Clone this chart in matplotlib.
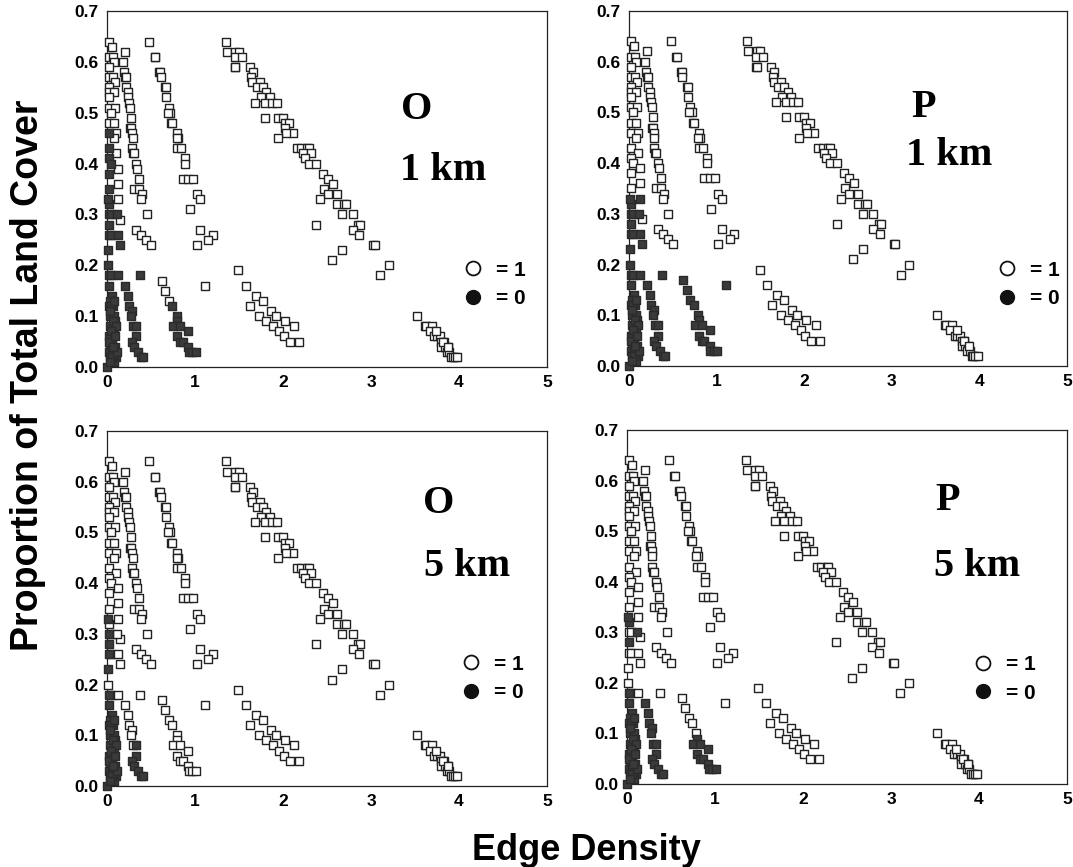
import matplotlib
matplotlib.use('Agg')
import matplotlib.pyplot as plt
from matplotlib.lines import Line2D
from matplotlib.markers import MarkerStyle

plt.rcParams['font.family'] = ['Liberation Sans', 'DejaVu Sans']

# ---- shared point clusters (always open, code 1) ----
line_a_x = [1.35, 1.36, 1.46, 1.50, 1.45, 1.53, 1.45, 1.46, 1.62, 1.66, 1.64, 1.65, 1.74, 1.70, 1.77,
            1.81, 1.85, 1.75, 1.68, 1.79, 1.87, 1.93, 1.79, 1.94, 2.00, 2.02, 2.07, 2.02, 2.11, 2.03,
            1.94, 2.16, 2.21, 2.27, 2.29, 2.23, 2.32, 2.25, 2.30, 2.38, 2.46, 2.51, 2.57, 2.47, 2.51,
            2.61, 2.42, 2.61, 2.69, 2.72, 2.67, 2.79, 2.38, 2.85, 2.88, 2.79, 2.86, 3.02, 3.04, 2.67,
            2.56, 3.20, 3.10]
line_a_y = [0.64, 0.62, 0.62, 0.62, 0.61, 0.61, 0.59, 0.59, 0.59, 0.58, 0.57, 0.56, 0.56, 0.55, 0.55,
            0.54, 0.53, 0.53, 0.52, 0.52, 0.52, 0.52, 0.49, 0.49, 0.49, 0.48, 0.48, 0.47, 0.46, 0.46,
            0.45, 0.43, 0.43, 0.43, 0.43, 0.42, 0.42, 0.41, 0.40, 0.40, 0.38, 0.37, 0.36, 0.35, 0.34,
            0.34, 0.33, 0.32, 0.32, 0.32, 0.30, 0.30, 0.28, 0.28, 0.28, 0.27, 0.26, 0.24, 0.24, 0.23,
            0.21, 0.20, 0.18]

line_b_x = [0.48, 0.54, 0.55, 0.59, 0.60, 0.61, 0.66, 0.67, 0.67, 0.70, 0.72, 0.69, 0.73, 0.74, 0.80,
            0.81, 0.79, 0.80, 0.84, 0.89, 0.89, 0.86, 0.92, 0.98, 1.02, 1.06, 0.94, 1.06, 1.20, 1.15, 1.02]
line_b_y = [0.64, 0.61, 0.61, 0.58, 0.58, 0.57, 0.55, 0.55, 0.53, 0.51, 0.50, 0.50, 0.48, 0.48, 0.46,
            0.45, 0.45, 0.43, 0.43, 0.41, 0.40, 0.37, 0.37, 0.37, 0.34, 0.33, 0.31, 0.27, 0.26, 0.25, 0.24]

line_c_x = [0.20, 0.18, 0.19, 0.21, 0.22, 0.22, 0.24, 0.24, 0.25, 0.26, 0.27, 0.26, 0.27, 0.28, 0.29,
            0.28, 0.30, 0.31, 0.33, 0.34, 0.36, 0.31, 0.36, 0.40, 0.39, 0.45, 0.33, 0.39, 0.44, 0.50]
line_c_y = [0.62, 0.60, 0.58, 0.57, 0.57, 0.55, 0.54, 0.53, 0.52, 0.51, 0.49, 0.47, 0.47, 0.46, 0.45,
            0.43, 0.42, 0.42, 0.40, 0.39, 0.37, 0.35, 0.35, 0.34, 0.33, 0.30, 0.27, 0.26, 0.25, 0.24]

line_d_x = [1.49, 1.58, 1.69, 1.77, 1.63, 1.86, 1.92, 1.73, 1.81, 2.02, 1.89, 2.13, 1.96, 2.01, 2.08, 2.18]
line_d_y = [0.19, 0.16, 0.14, 0.13, 0.12, 0.11, 0.10, 0.10, 0.09, 0.09, 0.08, 0.08, 0.07, 0.06, 0.05, 0.05]

line_e_x = [3.52, 3.61, 3.62, 3.69, 3.67, 3.72, 3.75, 3.78, 3.80, 3.83, 3.80, 3.84, 3.87, 3.86, 3.89,
            3.91, 3.93, 3.95, 3.98, 3.74, 3.82, 3.88]
line_e_y = [0.10, 0.08, 0.08, 0.08, 0.07, 0.06, 0.06, 0.06, 0.05, 0.05, 0.04, 0.04, 0.04, 0.03, 0.03,
            0.02, 0.02, 0.02, 0.02, 0.07, 0.05, 0.04]

# ---- clusters whose code (1 = open, 0 = filled) differs between panels ----
col_hi_x = [0.02, 0.06, 0.02, 0.07, 0.08, 0.02, 0.02, 0.07, 0.09, 0.02, 0.02, 0.08, 0.02, 0.02, 0.09,
            0.05, 0.02, 0.08, 0.02, 0.10, 0.08, 0.02, 0.10, 0.02, 0.05, 0.12, 0.02, 0.12, 0.02, 0.13,
            0.02, 0.15, 0.02]
col_hi_y = [0.64, 0.63, 0.61, 0.61, 0.60, 0.59, 0.57, 0.57, 0.56, 0.55, 0.54, 0.54, 0.53, 0.51, 0.51,
            0.50, 0.48, 0.48, 0.46, 0.46, 0.45, 0.43, 0.42, 0.41, 0.40, 0.39, 0.38, 0.36, 0.35, 0.33,
            0.32, 0.29, 0.28]

col_lo_x = [0.01, 0.02, 0.05, 0.11, 0.02, 0.05, 0.13, 0.15, 0.01, 0.01, 0.02, 0.05, 0.13, 0.02, 0.06,
            0.04, 0.02, 0.07, 0.03, 0.08, 0.09, 0.04, 0.08, 0.02, 0.06, 0.03, 0.09, 0.02, 0.06, 0.10,
            0.04, 0.08, 0.00, 0.05, 0.08, 0.03, 0.07, 0.10, 0.05, 0.02, 0.09, 0.06, 0.04, 0.11, 0.07]
col_lo_y = [0.33, 0.30, 0.30, 0.30, 0.26, 0.26, 0.26, 0.24, 0.23, 0.20, 0.18, 0.18, 0.18, 0.16, 0.14,
            0.13, 0.12, 0.12, 0.10, 0.10, 0.09, 0.08, 0.07, 0.06, 0.05, 0.04, 0.04, 0.03, 0.03, 0.02,
            0.02, 0.01, 0.00, 0.12, 0.13, 0.11, 0.09, 0.08, 0.07, 0.05, 0.06, 0.02, 0.01, 0.03, 0.04]

line_f_x = [0.62, 0.66, 0.70, 0.74, 0.79, 0.80, 0.75, 0.83, 0.92, 0.80, 0.83, 0.86, 0.92, 0.93, 0.97, 1.01]
line_f_y = [0.17, 0.15, 0.13, 0.12, 0.10, 0.09, 0.08, 0.08, 0.07, 0.06, 0.05, 0.05, 0.04, 0.03, 0.03, 0.03]

line_g_x = [0.38, 0.20, 0.24, 0.25, 0.28, 0.27, 0.30, 0.33, 0.33, 0.28, 0.31, 0.35, 0.39, 0.41]
line_g_y = [0.18, 0.16, 0.14, 0.12, 0.11, 0.10, 0.08, 0.08, 0.06, 0.05, 0.04, 0.03, 0.02, 0.02]

stray_x = [1.11]
stray_y = [0.16]

panel_names = ['O', 'P', 'O', 'P']
panel_scales = ['1 km', '1 km', '5 km', '5 km']

codes_col_hi = ['111111111111111111011010010101010',
                '111111111111111111111111111110010',
                '111111111111111111111111111111110',
                '111111111111111111111111111111010']
codes_col_lo = ['000000000000000000000000000000000000000000000',
                '000000000000000000000000000000000000000000000',
                '001101110101100000000000000000000000000000000',
                '011011111101100000000000000000000000000000000']
codes_f = ['1110000000000000', '0000000000000000', '1111111111111111', '1111100000000000']
codes_g = ['00000000000000', '00000000000000', '11111110000000', '10000000000000']
codes_stray = ['1', '0', '1', '1']

# ---- layout (figure fractions) ----
axes_rects = [[0.0997, 0.5767, 0.4101, 0.4106],
              [0.5862, 0.5779, 0.4082, 0.4095],
              [0.0997, 0.0934, 0.4101, 0.4095],
              [0.5843, 0.0957, 0.4101, 0.4083]]
name_pos = [(3.52, 0.507), (3.36, 0.509), (3.77, 0.558), (3.64, 0.56)]
scale_pos = [(3.82, 0.387), (3.66, 0.415), (4.09, 0.432), (3.98, 0.43)]
legend_pos = [(0.882, 0.232), (0.914, 0.23), (0.878, 0.303), (0.860, 0.297)]

square = MarkerStyle('s', joinstyle='round')

fig = plt.figure(figsize=(10.73, 8.67), dpi=100)

for i in range(4):
    ax = fig.add_axes(axes_rects[i])
    xs = line_a_x + line_b_x + line_c_x + line_d_x + line_e_x
    ys = line_a_y + line_b_y + line_c_y + line_d_y + line_e_y
    cs = '1' * len(xs)
    xs = xs + col_hi_x + col_lo_x + line_f_x + line_g_x + stray_x
    ys = ys + col_hi_y + col_lo_y + line_f_y + line_g_y + stray_y
    cs = cs + codes_col_hi[i] + codes_col_lo[i] + codes_f[i] + codes_g[i] + codes_stray[i]

    ox = [x for x, c in zip(xs, cs) if c == '1']
    oy = [y for y, c in zip(ys, cs) if c == '1']
    fx = [x for x, c in zip(xs, cs) if c == '0']
    fy = [y for y, c in zip(ys, cs) if c == '0']
    ax.scatter(ox, oy, s=34, marker=square, facecolor='white', edgecolor='#222222',
               linewidths=1.0, clip_on=False, zorder=3)
    ax.scatter(fx, fy, s=34, marker=square, facecolor='#3a3a3a', edgecolor='#2a2a2a',
               linewidths=1.0, clip_on=False, zorder=4)

    ax.set_xlim(0, 5)
    ax.set_ylim(0, 0.7)
    ax.set_xticks([0, 1, 2, 3, 4, 5])
    ax.set_xticklabels(['0', '1', '2', '3', '4', '5'])
    ax.set_yticks([0, 0.1, 0.2, 0.3, 0.4, 0.5, 0.6, 0.7])
    ax.set_yticklabels(['0.0', '0.1', '0.2', '0.3', '0.4', '0.5', '0.6', '0.7'])
    ax.tick_params(length=0, labelsize=12.5, pad=6)
    for lab in ax.get_xticklabels() + ax.get_yticklabels():
        lab.set_fontweight('bold')
    for sp in ax.spines.values():
        sp.set_linewidth(0.9)
        sp.set_color('#222222')

    ax.text(name_pos[i][0], name_pos[i][1], panel_names[i], ha='center', va='center',
            fontsize=29, fontweight='bold', family=['Liberation Serif', 'DejaVu Serif'])
    ax.text(scale_pos[i][0], scale_pos[i][1], panel_scales[i], ha='center', va='center',
            fontsize=29, fontweight='bold', family=['Liberation Serif', 'DejaVu Serif'])

    handles = [Line2D([], [], marker='o', linestyle='none', markersize=10,
                      markerfacecolor='white', markeredgecolor='#111111', markeredgewidth=1.3),
               Line2D([], [], marker='o', linestyle='none', markersize=10,
                      markerfacecolor='#111111', markeredgecolor='#111111')]
    ax.legend(handles, ['= 1', '= 0'], loc='center', bbox_to_anchor=legend_pos[i],
              frameon=False, handlelength=0.8, handletextpad=0.7, labelspacing=0.45,
              borderpad=0, prop={'size': 15, 'weight': 'bold'})

fig.text(0.026, 0.567, 'Proportion of Total Land Cover', rotation=90, ha='center', va='center',
         fontsize=27, fontweight='bold')
fig.text(0.547, 0.0196, 'Edge Density', ha='center', va='center', fontsize=26, fontweight='bold')

fig.savefig('out.png', dpi=100)
